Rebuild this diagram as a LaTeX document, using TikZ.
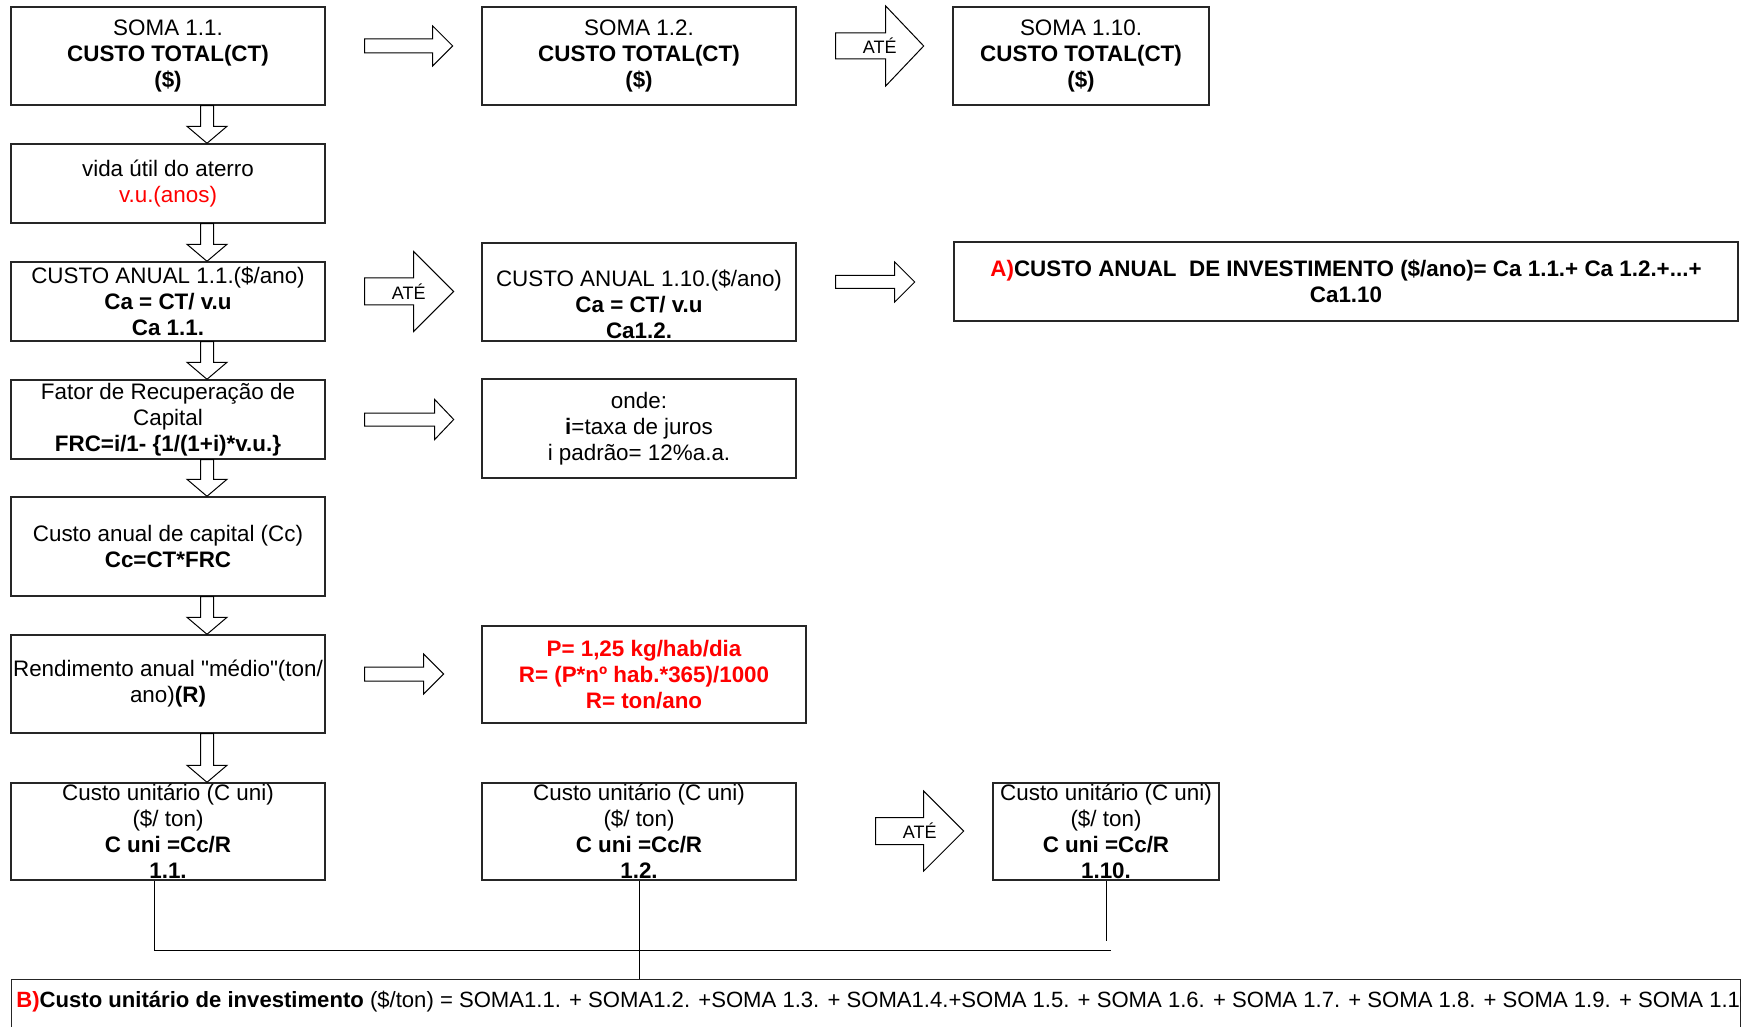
\documentclass[tikz,border=0pt]{standalone}
\usepackage{fontspec}
\setmainfont{Liberation Sans}[Ligatures=TeXOff]
\usetikzlibrary{calc}
\definecolor{redtxt}{RGB}{255,0,0}

\tikzset{
  box/.style={draw=black!85, line width=0.7pt, fill=white, inner sep=0pt,
    align=center, font=\fontsize{11.2}{13}\selectfont},
  txt/.style={inner sep=0pt, align=center, font=\fontsize{11.2}{13}\selectfont},
  blk/.style={draw=black, line width=0.5pt, fill=white, line join=miter},
  atelbl/.style={inner sep=0pt, font=\fontsize{9}{10}\selectfont},
  ln/.style={draw=black, line width=0.5pt},
}

% hollow block arrow pointing down, from the bottom of #1 to the top of #2
\newcommand{\dnblk}[2]{%
  \draw[blk] ($(#1.south)+(32.5,0)$) -- ($(#1.south)+(45.5,0)$)
    -- ($(#2.north)+(45.5,-17)$) -- ($(#2.north)+(59,-17)$)
    -- ($(#2.north)+(39,0)$) -- ($(#2.north)+(19,-17)$)
    -- ($(#2.north)+(32.5,-17)$) -- cycle;}

% hollow block arrow pointing right: start, length, head length, head half-width, shaft half-width
\newcommand{\rtblk}[5]{%
  \draw[blk] (#1) ++(0,-#5) -- ++({#2-#3},0) -- ++(0,{#5-#4}) -- ++(#3,#4)
    -- ++(-#3,#4) -- ++(0,{#5-#4}) -- ++({#3-#2},0) -- cycle;}

\begin{document}
\begin{tikzpicture}[x=0.5pt, y=-0.5pt]
\useasboundingbox (0,0) rectangle (1752,1027);
\clip (0,0) rectangle (1752,1027);

% ---- boxes ----
\node[box, minimum width=157pt, minimum height=49pt] (s11) at (168,56)
  {SOMA 1.1.\\\textbf{CUSTO TOTAL(CT)}\\\textbf{(\$)}};
\node[box, minimum width=157pt, minimum height=49pt] (s12) at (639,56)
  {SOMA 1.2.\\\textbf{CUSTO TOTAL(CT)}\\\textbf{(\$)}};
\node[box, minimum width=128pt, minimum height=49pt] (s110) at (1081,56)
  {SOMA 1.10.\\\textbf{CUSTO TOTAL(CT)}\\\textbf{(\$)}};

\node[box, minimum width=157pt, minimum height=39.5pt] (vida) at (168,183.5)
  {vida útil do aterro\\\textcolor{redtxt}{v.u.(anos)}};

\node[box, minimum width=157pt, minimum height=39.5pt] (ca11) at (168,301.5)
  {CUSTO ANUAL 1.1.(\$/ano)\\\textbf{Ca = CT/ v.u}\\\textbf{Ca 1.1.}};
\node[box, minimum width=157pt, minimum height=49pt] (ca110) at (639,292) {};
\node[txt] (ca110t) at (639,304)
  {CUSTO ANUAL 1.10.(\$/ano)\\\textbf{Ca = CT/ v.u}\\\textbf{Ca1.2.}};
\node[box, minimum width=392pt, minimum height=39.5pt] (A) at (1346,281.5)
  {\textbf{\textcolor{redtxt}{A)}CUSTO ANUAL\ \ DE INVESTIMENTO (\$/ano)= Ca 1.1.+ Ca 1.2.+...+}\\\textbf{Ca1.10}};

\node[box, minimum width=157pt, minimum height=39.5pt] (frc) at (168,419.5)
  {Fator de Recuperação de\\Capital\\\textbf{FRC=i/1- \{1/(1+i)*v.u.\}}};
\node[box, minimum width=157pt, minimum height=49.5pt] (onde) at (639,428.5)
  {onde:\\\textbf{i}=taxa de juros\\i padrão= 12\%a.a.};

\node[box, minimum width=157pt, minimum height=49.5pt] (cc) at (168,546.5)
  {Custo anual de capital (Cc)\\\textbf{Cc=CT*FRC}};

\node[box, minimum width=157pt, minimum height=49pt] (rend) at (168,684)
  {Rendimento anual "médio"(ton/\\ano)\textbf{(R)}};
\node[box, minimum width=162pt, minimum height=48.5pt, text=redtxt,
      font=\fontsize{11.2}{13}\selectfont\bfseries] (pbox) at (644,674.5)
  {P= 1,25 kg/hab/dia\\R= (P*nº hab.*365)/1000\\R= ton/ano};

\node[box, minimum width=157pt, minimum height=48.5pt] (cu11) at (168,831.5)
  {Custo unitário (C uni)\\(\$/ ton)\\\textbf{C uni =Cc/R}\\\textbf{1.1.}};
\node[box, minimum width=157pt, minimum height=48.5pt] (cu12) at (639,831.5)
  {Custo unitário (C uni)\\(\$/ ton)\\\textbf{C uni =Cc/R}\\\textbf{1.2.}};
\node[box, minimum width=113pt, minimum height=48.5pt] (cu110) at (1106,831.5)
  {Custo unitário (C uni)\\(\$/ ton)\\\textbf{C uni =Cc/R}\\\textbf{1.10.}};

\node[box, anchor=north west, minimum width=864.5pt, minimum height=40pt] (B) at (11,979) {};
\begin{scope}
  \clip ($(B.south west)+(1,0)$) rectangle ($(B.north east)+(-1,0)$);
  \node[txt, anchor=west, font=\fontsize{11.05}{13}\selectfont] (Bt) at ($(B.north west)+(5,23)$)
    {\textcolor{redtxt}{\textbf{B)}}\textbf{Custo unitário de investimento} (\$/ton) = SOMA1.1. + SOMA1.2. +SOMA 1.3. + SOMA1.4.+SOMA 1.5. + SOMA 1.6. + SOMA 1.7. + SOMA 1.8. + SOMA 1.9. + SOMA 1.10.};
\end{scope}

% ---- downward block arrows along the left column ----
\dnblk{s11}{vida}
\dnblk{vida}{ca11}
\dnblk{ca11}{frc}
\dnblk{frc}{cc}
\dnblk{cc}{rend}
\dnblk{rend}{cu11}

% ---- rightward block arrows ----
\coordinate (r1) at ($(s11.east)+(39,-10)$);
\rtblk{r1}{88}{20}{20}{7}
\coordinate (r2) at ($(s12.east)+(39,-10)$);
\rtblk{r2}{88}{38}{40}{13}
\node[atelbl] (ate1) at ($(r2)+(44,0)$) {ATÉ};
\coordinate (r3) at ($(ca11.east)+(39,-10)$);
\rtblk{r3}{89}{40}{40}{13.5}
\node[atelbl] (ate2) at ($(r3)+(44,0)$) {ATÉ};
\coordinate (r4) at ($(ca110.east)+(39,-10)$);
\rtblk{r4}{79}{20}{20}{6.5}
\coordinate (r5) at ($(frc.east)+(39,0)$);
\rtblk{r5}{89}{19}{20}{6.5}
\coordinate (r6) at ($(rend.east)+(39,-10)$);
\rtblk{r6}{79}{20}{20}{7}
\coordinate (r7) at ($(cu12.east)+(79,-0.5)$);
\rtblk{r7}{88}{40}{40}{13.5}
\node[atelbl] (ate3) at ($(r7)+(44,0)$) {ATÉ};

% ---- connecting lines at the bottom ----
\coordinate (j1) at ($(cu11.south)+(-14,70)$);
\coordinate (j2) at ($(cu110.south)+(5,70)$);
\coordinate (j3) at ($(cu110.south)+(0,60)$);
\draw[ln] ($(cu11.south)+(-14,0)$) -- (j1) -- (j2);
\draw[ln] (cu12.south) -- (cu12.south |- B.north);
\draw[ln] (cu110.south) -- (j3);
\end{tikzpicture}
\end{document}
